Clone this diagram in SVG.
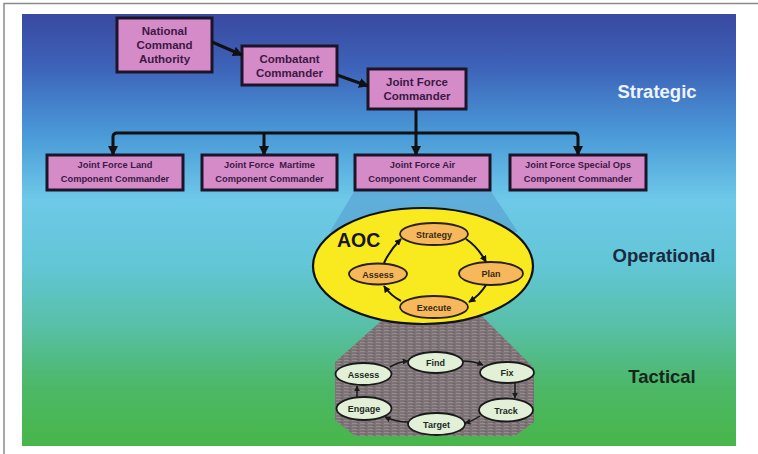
<svg xmlns="http://www.w3.org/2000/svg" width="758" height="454" viewBox="0 0 758 454">
  <defs>
    <linearGradient id="sky" x1="0" y1="14" x2="0" y2="446" gradientUnits="userSpaceOnUse">
      <stop offset="0" stop-color="#3a48a0"/>
      <stop offset="0.12" stop-color="#3d62b8"/>
      <stop offset="0.28" stop-color="#4a9ad8"/>
      <stop offset="0.43" stop-color="#6ec9e8"/>
      <stop offset="0.58" stop-color="#62c6d6"/>
      <stop offset="0.72" stop-color="#58c0a8"/>
      <stop offset="0.86" stop-color="#4cb868"/>
      <stop offset="1" stop-color="#48b64a"/>
    </linearGradient>
    <pattern id="weave" width="8" height="3" patternUnits="userSpaceOnUse">
      <rect width="8" height="3" fill="#7e7478"/>
      <rect x="0" y="0" width="5" height="1" fill="#958c90"/>
      <rect x="4" y="2" width="3" height="0.8" fill="#6c6266"/>
    </pattern>
    <marker id="head" viewBox="0 0 10 10" refX="9" refY="5" markerWidth="10" markerHeight="10" markerUnits="userSpaceOnUse" orient="auto">
      <path d="M0,0 L10,5 L0,10 z" fill="#111"/>
    </marker>
    <marker id="headS" viewBox="0 0 10 10" refX="9" refY="5" markerWidth="7" markerHeight="7" markerUnits="userSpaceOnUse" orient="auto">
      <path d="M0,0 L10,5 L0,10 z" fill="#111"/>
    </marker>
    <marker id="headT" viewBox="0 0 10 10" refX="9" refY="5" markerWidth="6" markerHeight="6" markerUnits="userSpaceOnUse" orient="auto">
      <path d="M0,0 L10,5 L0,10 z" fill="#1a1a1a"/>
    </marker>
    <style>
      .box { fill: #d68bc9; stroke: #1c1428; stroke-width: 3; }
      .bt { font-family: "Liberation Sans", Arial, sans-serif; font-weight: bold; fill: #3a1a44; text-anchor: middle; }
      .big { font-size: 11.5px; }
      .small { font-size: 9.3px; }
      .tier { font-family: "Liberation Sans", Arial, sans-serif; font-weight: bold; font-size: 18.5px; text-anchor: middle; }
      .op { fill: #f6b85a; stroke: #2a2010; stroke-width: 1.8; }
      .opt { font-family: "Liberation Sans", Arial, sans-serif; font-weight: bold; font-size: 9px; fill: #3a2a18; text-anchor: middle; }
      .tac { fill: #e2f0d8; stroke: #1a1a1a; stroke-width: 1.8; }
      .tact { font-family: "Liberation Sans", Arial, sans-serif; font-weight: bold; font-size: 9px; fill: #1c2a1c; text-anchor: middle; }
      .link { fill: none; stroke: #111; stroke-width: 3; }
      .cyc { fill: none; stroke: #111; stroke-width: 2; }
      .tcyc { fill: none; stroke: #1a1a1a; stroke-width: 1.5; }
    </style>
  </defs>

  <!-- page frame -->
  <path d="M4,454 L4,3.5 L758,3.5" fill="none" stroke="#8a8a8a" stroke-width="1.5"/>

  <!-- backdrop -->
  <rect x="22" y="14" width="714" height="432" fill="url(#sky)"/>

  <!-- tier labels -->
  <text class="tier" x="657" y="98" fill="#eef4ff">Strategic</text>
  <text class="tier" x="664" y="262" fill="#1a2840">Operational</text>
  <text class="tier" x="662" y="383" fill="#16261c">Tactical</text>

  <!-- zoom wedge from the air component to the AOC -->
  <polygon points="355,190 490,190 518,232 330,232" fill="#4c86c8" opacity="0.4"/>

  <!-- tactical cone below Execute -->
  <polygon points="398,306 472,306 534,368 534,422 515,436 355,436 335,420 335,362" fill="url(#weave)"/>

  <!-- AOC -->
  <g id="aoc">
    <ellipse cx="423" cy="266" rx="110" ry="58" fill="#f8ea1e" stroke="#111" stroke-width="2.2"/>
    <text x="337" y="247" font-family="Liberation Sans, Arial, sans-serif" font-weight="bold" font-size="19.5" fill="#161616">AOC</text>
  </g>

  <!-- command chain -->
  <g id="nca">
    <rect class="box" x="117" y="18" width="95" height="54"/>
    <text class="bt big" x="164.5" y="35">National</text>
    <text class="bt big" x="164.5" y="49">Command</text>
    <text class="bt big" x="164.5" y="63">Authority</text>
  </g>
  <g id="combatant">
    <rect class="box" x="242" y="46" width="95" height="39"/>
    <text class="bt big" x="289.5" y="63">Combatant</text>
    <text class="bt big" x="289.5" y="77">Commander</text>
  </g>
  <g id="jfc">
    <rect class="box" x="368" y="69" width="98" height="40"/>
    <text class="bt big" x="417" y="86">Joint Force</text>
    <text class="bt big" x="417" y="100">Commander</text>
  </g>
  <g id="jflcc">
    <rect class="box" x="47" y="155" width="136" height="35"/>
    <text class="bt small" x="115" y="168">Joint Force Land</text>
    <text class="bt small" x="115" y="182">Component Commander</text>
  </g>
  <g id="jfmcc">
    <rect class="box" x="202" y="155" width="135" height="35"/>
    <text class="bt small" x="269.5" y="168" xml:space="preserve">Joint Force  Martime</text>
    <text class="bt small" x="269.5" y="182">Component Commander</text>
  </g>
  <g id="jfacc">
    <rect class="box" x="355" y="155" width="135" height="35"/>
    <text class="bt small" x="422.5" y="168">Joint Force Air</text>
    <text class="bt small" x="422.5" y="182">Component Commander</text>
  </g>
  <g id="jfsocc">
    <rect class="box" x="510" y="155" width="136" height="35"/>
    <text class="bt small" x="578" y="168">Joint Force Special Ops</text>
    <text class="bt small" x="578" y="182">Component Commander</text>
  </g>

  <!-- AOC cycle -->
  <g id="aoc-strategy">
    <ellipse class="op" cx="434" cy="234" rx="34" ry="11"/>
    <text class="opt" x="434" y="237.5">Strategy</text>
  </g>
  <g id="aoc-plan">
    <ellipse class="op" cx="491" cy="273.5" rx="32" ry="11.5"/>
    <text class="opt" x="491" y="277">Plan</text>
  </g>
  <g id="aoc-execute">
    <ellipse class="op" cx="434" cy="307" rx="34" ry="11"/>
    <text class="opt" x="434" y="310.5">Execute</text>
  </g>
  <g id="aoc-assess">
    <ellipse class="op" cx="378" cy="274" rx="29" ry="10.5"/>
    <text class="opt" x="378" y="277.5">Assess</text>
  </g>

  <!-- tactical cycle -->
  <g id="t-find">
    <ellipse class="tac" cx="435.5" cy="362.5" rx="27.5" ry="10.5"/>
    <text class="tact" x="435.5" y="366">Find</text>
  </g>
  <g id="t-fix">
    <ellipse class="tac" cx="507" cy="372.5" rx="27" ry="10.5"/>
    <text class="tact" x="507" y="376">Fix</text>
  </g>
  <g id="t-track">
    <ellipse class="tac" cx="506" cy="410" rx="27" ry="11.5"/>
    <text class="tact" x="506" y="413.5">Track</text>
  </g>
  <g id="t-target">
    <ellipse class="tac" cx="436.5" cy="424" rx="28.5" ry="11"/>
    <text class="tact" x="436.5" y="427.5">Target</text>
  </g>
  <g id="t-engage">
    <ellipse class="tac" cx="364" cy="408.5" rx="27.5" ry="11.5"/>
    <text class="tact" x="364" y="412">Engage</text>
  </g>
  <g id="t-assess">
    <ellipse class="tac" cx="363.5" cy="374" rx="28" ry="11"/>
    <text class="tact" x="363.5" y="377.5">Assess</text>
  </g>

  <!-- connectors -->
  <g id="connectors">
    <line class="link" x1="212" y1="42" x2="242" y2="55" marker-end="url(#head)"/>
    <line class="link" x1="337" y1="75" x2="368" y2="86" marker-end="url(#head)"/>
    <line class="link" x1="416" y1="109" x2="416" y2="155" marker-end="url(#head)"/>
    <path class="link" d="M416,133 L117,133 Q113,133 113,137 L113,155" marker-end="url(#head)"/>
    <path class="link" d="M416,133 L574,133 Q578,133 578,137 L578,155" marker-end="url(#head)"/>
    <line class="link" x1="264" y1="133" x2="264" y2="155" marker-end="url(#head)"/>

    <path class="cyc" d="M384,263 Q390,250 401,239" marker-end="url(#headS)"/>
    <path class="cyc" d="M466,239 Q478,247 486,262" marker-end="url(#headS)"/>
    <path class="cyc" d="M486,285 Q480,295 469,302" marker-end="url(#headS)"/>
    <path class="cyc" d="M401,301 Q391,296 384,286" marker-end="url(#headS)"/>

    <path class="tcyc" d="M390,367 Q398,362 408,361" marker-end="url(#headT)"/>
    <path class="tcyc" d="M463,361 Q473,361 483,365" marker-end="url(#headT)"/>
    <line class="tcyc" x1="515" y1="383" x2="515" y2="398" marker-end="url(#headT)"/>
    <path class="tcyc" d="M480,416 Q473,421 465,423" marker-end="url(#headT)"/>
    <path class="tcyc" d="M408,422 Q396,422 385,417" marker-end="url(#headT)"/>
    <line class="tcyc" x1="357" y1="397" x2="357" y2="386" marker-end="url(#headT)"/>
  </g>
</svg>
